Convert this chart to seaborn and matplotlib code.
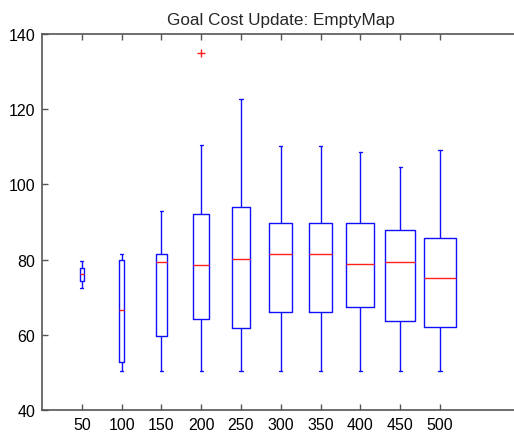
import numpy as np
import pandas as pd
import matplotlib
matplotlib.use("Agg")
import matplotlib.pyplot as plt
import seaborn as sns

# ---- data ----
categories = ["50", "100", "150", "200", "250", "300", "350", "400", "450", "500"]
whisker_low = [72.5, 50.5, 50.5, 50.5, 50.5, 50.5, 50.5, 50.5, 50.5, 50.5]
q1 = [74.3, 52.7, 59.6, 64.2, 61.8, 66.0, 66.1, 67.3, 63.6, 62.2]
median = [76.1, 66.5, 79.3, 78.6, 80.1, 81.6, 81.6, 78.7, 79.3, 75.1]
q3 = [77.7, 80.0, 81.4, 92.2, 93.9, 89.7, 89.7, 89.7, 87.8, 85.8]
whisker_high = [79.5, 81.4, 92.9, 110.5, 122.7, 110.3, 110.3, 108.5, 104.5, 109.1]
outliers = [[], [], [], [135.0], [], [], [], [], [], []]
box_widths = [0.10, 0.12, 0.27, 0.41, 0.46, 0.57, 0.58, 0.71, 0.75, 0.80]
yticks = [40, 60, 80, 100, 120, 140]

sns.set_style("white")
plt.rcParams["font.family"] = ["Liberation Sans", "DejaVu Sans"]

fig = plt.figure(figsize=(5.14, 4.39), dpi=100)
ax = fig.add_axes([0.0817, 0.0638, 0.929, 0.8565])

blue = "#1010ff"
red = "#ff2020"

for i, cat in enumerate(categories):
    if outliers[i]:
        # 10 points -> quartile positions 2.25, 4.5, 6.75 land on q1, median, q3
        vals = [whisker_low[i], (whisker_low[i] + q1[i]) / 2, q1[i], q1[i],
                median[i], median[i], q3[i], q3[i], whisker_high[i]] + list(outliers[i])
    else:
        # 9 points -> quartile positions 2, 4, 6 land on q1, median, q3
        vals = [whisker_low[i], whisker_low[i], q1[i],
                (q1[i] + median[i]) / 2, median[i],
                (median[i] + q3[i]) / 2, q3[i], whisker_high[i], whisker_high[i]]
    df = pd.DataFrame({"cat": [cat] * len(vals), "value": vals})
    sns.boxplot(data=df, x="cat", y="value", order=categories, ax=ax,
                width=box_widths[i], fill=False, color=blue, linewidth=1.0,
                whis=1.5, capwidths=0.08,
                medianprops=dict(color=red, linewidth=1.0),
                flierprops=dict(marker="+", markeredgecolor=red,
                                markerfacecolor=red, markersize=6,
                                markeredgewidth=1.0))

ax.set_xlim(-1, 11)
ax.set_ylim(40, 140)
ax.set_yticks(yticks)
ax.set_xticks(range(len(categories)))
ax.set_xticklabels(categories)
ax.set_xlabel("")
ax.set_ylabel("")
ax.set_title("Goal Cost Update: EmptyMap", fontsize=12.3, pad=7)

for s in ax.spines.values():
    s.set_color("#555555")
    s.set_linewidth(1.2)
ax.spines["right"].set_visible(False)
ax.tick_params(axis="both", direction="in", length=4, width=1, color="#555555",
               labelsize=11.5, top=True, right=False, bottom=True, left=True,
               labelcolor="black", pad=5)

fig.savefig("out.png", dpi=100)
